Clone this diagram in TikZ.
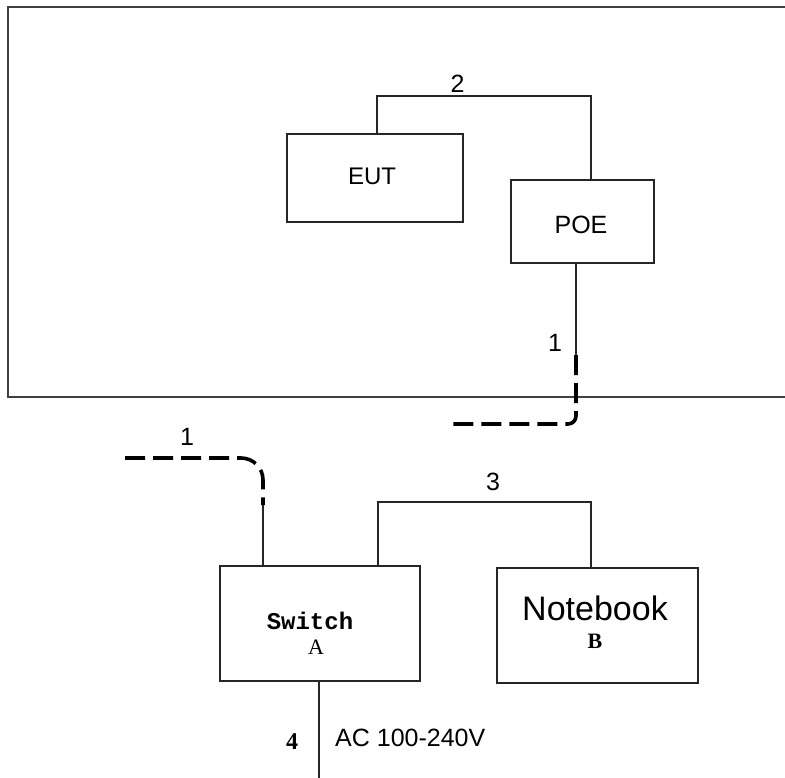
\documentclass[tikz,border=0pt]{standalone}
\usepackage{fontspec}
\setmainfont{Liberation Sans}
\newfontfamily\seriffont{Liberation Serif}
\newfontfamily\monofont{Liberation Mono}
\begin{document}
\begin{tikzpicture}[x=1pt,y=-1pt,
  box/.style={draw=black!85, line width=2.2pt, inner sep=0pt, minimum width=#1},
  wire/.style={draw=black!85, line width=2pt},
  cable/.style={draw=black, line width=3.6pt, dash pattern=on 20pt off 8pt},
  lbl/.style={inner sep=0pt, font=\fontsize{25}{25}\selectfont},
  frame/.style={draw=black!75, line width=2.6pt}]
\useasboundingbox (0,0) rectangle (785,778);
% enclosure (open on the right)
\draw[frame] (785,7) -| (8,397) -- (785,397);
% boxes
\node[box=176pt, minimum height=88pt] (EUT) at (375,178) {};
\node[box=143pt, minimum height=83pt] (POE) at (582.5,221.5) {};
\node[box=200pt, minimum height=115pt] (SW) at (320,623.5) {};
\node[box=201pt, minimum height=115pt] (NB) at (597.5,625.5) {};
% texts
\node[lbl, font=\fontsize{24}{24}\selectfont] (tEUT) at (372,176) {EUT};
\node[lbl] (tPOE) at (581,224.5) {POE};
\node[lbl, font=\fontsize{24}{24}\selectfont\monofont\bfseries] (tSW) at (310,621) {Switch};
\node[lbl, font=\fontsize{22}{22}\selectfont\seriffont] (tA) at (316,647) {A};
\node[lbl, font=\fontsize{34}{34}\selectfont] (tNB) at (595,608) {Notebook};
\node[lbl, font=\fontsize{22}{22}\selectfont\seriffont\bfseries] (tB) at (595,641) {B};
\node[lbl] (l2) at (457.5,84) {2};
\node[lbl] (l1a) at (555,343) {1};
\node[lbl] (l1b) at (187,437) {1};
\node[lbl] (l3) at (493,482) {3};
\node[lbl, font=\fontsize{24}{24}\selectfont\seriffont\bfseries] (l4) at (292,742) {4};
\node[lbl, anchor=west] (ac) at (335,738) {AC 100-240V};
% connector 2
\coordinate (c2a) at (377,96);
\coordinate (c2b) at (591,96);
\draw[wire] (EUT.north -| c2a) -- (c2a) -- (c2b) -- (c2b |- POE.north);
% connector 1 (upper part)
\coordinate (p1) at (576,355);
\coordinate (p1c) at (576,424);
\coordinate (p1e) at (450,424);
\draw[wire] (POE.south -| p1) -- (p1);
\draw[cable, rounded corners=8pt] (p1) -- (p1c) -- (p1e);
% connector 1 (lower part)
\coordinate (q0) at (125,458);
\coordinate (qc) at (263,458);
\coordinate (q1) at (263,505);
\draw[cable, rounded corners=22pt] (q0) -- (qc) -- (q1);
\draw[wire] (q1) -- (q1 |- SW.north);
% connector 3
\coordinate (c3a) at (378,502);
\coordinate (c3b) at (591,502);
\draw[wire] (SW.north -| c3a) -- (c3a) -- (c3b) -- (c3b |- NB.north);
% connector 4
\coordinate (c4) at (319,778);
\draw[wire] (SW.south -| c4) -- (c4);
\end{tikzpicture}
\end{document}
